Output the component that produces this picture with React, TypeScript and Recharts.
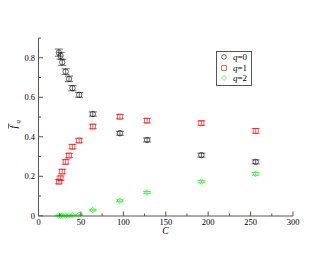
import { ScatterChart, Scatter, XAxis, YAxis, ErrorBar } from "recharts";

const sizes = [24, 26, 28, 32, 36, 40, 48, 64, 96, 128, 192, 256];
const q0 = [0.826, 0.81, 0.777, 0.73, 0.693, 0.646, 0.612, 0.515, 0.418, 0.384, 0.307, 0.273];
const q0Err = [0.018, 0.017, 0.015, 0.014, 0.014, 0.013, 0.012, 0.011, 0.01, 0.01, 0.01, 0.01];
const q1 = [0.173, 0.19, 0.224, 0.273, 0.305, 0.35, 0.381, 0.452, 0.502, 0.482, 0.469, 0.43];
const q1Err = [0.011, 0.011, 0.011, 0.011, 0.011, 0.011, 0.011, 0.011, 0.011, 0.011, 0.011, 0.012];
const q2 = [0.001, 0.001, 0.001, 0.001, 0.002, 0.002, 0.005, 0.029, 0.076, 0.118, 0.173, 0.212];
const q2Err = [0.002, 0.002, 0.002, 0.002, 0.002, 0.002, 0.003, 0.004, 0.005, 0.005, 0.006, 0.007];

const xTicks = [0, 25, 50, 75, 100, 125, 150, 175, 200, 225, 250, 275, 300];
const yTicks = [0, 0.1, 0.2, 0.3, 0.4, 0.5, 0.6, 0.7, 0.8, 0.9];
const legendLabels = ["0", "1", "2"];

const FONT = '"Liberation Serif", "Times New Roman", serif';
const AXIS = "#555";

const build = (vals: number[], errs: number[]) =>
  sizes.map((c, i) => ({ c, v: vals[i], err: errs[i] }));

const isMajorX = (v: number) => v % 50 === 0;
const isMajorY = (v: number) => Math.abs(Math.round(v * 10) % 2) === 0;

const BottomTick = (p: any) => {
  const v = p.payload.value;
  const major = isMajorX(v);
  return (
    <g>
      <line x1={p.x} x2={p.x} y1={p.y} y2={p.y - (major ? 4.5 : 2.5)} stroke={AXIS} />
      {major && (
        <text x={p.x} y={p.y + 8.5} textAnchor="middle" fontSize={8.5} fontFamily={FONT} fill="#000" stroke="none">
          {v}
        </text>
      )}
    </g>
  );
};

const TopTick = (p: any) => {
  const major = isMajorX(p.payload.value);
  return <line x1={p.x} x2={p.x} y1={p.y} y2={p.y + (major ? 4.5 : 2.5)} stroke={AXIS} />;
};

const LeftTick = (p: any) => {
  const v = p.payload.value;
  const major = isMajorY(v);
  return (
    <g>
      <line x1={p.x} x2={p.x + (major ? 4.5 : 2.5)} y1={p.y} y2={p.y} stroke={AXIS} />
      {major && v < 0.85 && (
        <text x={p.x - 3.5} y={p.y + 3} textAnchor="end" fontSize={8.5} fontFamily={FONT} fill="#000" stroke="none">
          {v === 0 ? "0" : v.toFixed(1)}
        </text>
      )}
    </g>
  );
};

const RightTick = (p: any) => {
  const major = isMajorY(p.payload.value);
  return <line x1={p.x} x2={p.x - (major ? 4.5 : 2.5)} y1={p.y} y2={p.y} stroke={AXIS} />;
};

const Circle = (p: any) => (
  <circle cx={p.cx} cy={p.cy} r={2.7} fill="none" stroke="#000" strokeWidth={0.6} />
);
const Square = (p: any) => (
  <rect x={p.cx - 2.5} y={p.cy - 2.5} width={5} height={5} fill="none" stroke="#ff0000" strokeWidth={0.6} />
);
const Diamond = (p: any) => (
  <path
    d={`M${p.cx},${p.cy - 2.8}L${p.cx + 2.8},${p.cy}L${p.cx},${p.cy + 2.8}L${p.cx - 2.8},${p.cy}Z`}
    fill="none"
    stroke="#00ee00"
    strokeWidth={0.6}
  />
);

const LegendBox = () => {
  const syms = [
    <circle cx={5} cy={5} r={2.3} fill="none" stroke="#000" strokeWidth={0.6} />,
    <rect x={2.7} y={2.7} width={4.6} height={4.6} fill="none" stroke="#ff0000" strokeWidth={0.6} />,
    <path d="M5,2.5L7.5,5L5,7.5L2.5,5Z" fill="none" stroke="#00ee00" strokeWidth={0.6} />,
  ];
  return (
    <div
      style={{
        position: "absolute",
        left: 216,
        top: 51,
        width: 32,
        border: "1px solid #555",
        padding: "0 0 1px 2px",
        background: "#fff",
        fontFamily: FONT,
        fontSize: 9,
        lineHeight: "10.5px",
      }}
    >
      {legendLabels.map((q, i) => (
        <div key={q} style={{ display: "flex", alignItems: "center" }}>
          <svg width={10} height={10} style={{ marginRight: 4 }}>
            {syms[i]}
          </svg>
          <span>
            <i>q</i>={q}
          </span>
        </div>
      ))}
    </div>
  );
};

const YLabel = () => (
  <g transform="translate(17,125) rotate(-90)">
    <line x1={-3.5} x2={1.5} y1={-8.5} y2={-8.5} stroke="#000" strokeWidth={0.6} />
    <text x={-2} y={0} textAnchor="middle" fontSize={10} fontStyle="italic" fontFamily={FONT} fill="#000" stroke="none">
      f
    </text>
    <text x={1.5} y={2.5} fontSize={7} fontStyle="italic" fontFamily={FONT} fill="#000" stroke="none">
      q
    </text>
  </g>
);

const XLabel = () => (
  <text x={165.5} y={233.5} textAnchor="middle" fontSize={9.5} fontStyle="italic" fontFamily={FONT} fill="#000" stroke="none">
    C
  </text>
);

export default function App() {
  return (
    <div style={{ position: "absolute", left: 0, top: 0, width: 330, height: 255, background: "#fff" }}>
      <ScatterChart width={330} height={255} margin={{ top: 38, right: 37, bottom: 0, left: 0 }}>
        <XAxis
          xAxisId="b"
          dataKey="c"
          type="number"
          domain={[0, 300]}
          ticks={xTicks}
          height={39}
          tickSize={0}
          tickMargin={0}
          tick={<BottomTick />}
          stroke={AXIS}
          interval={0}
          label={<XLabel />}
        />
        <XAxis
          xAxisId="t"
          dataKey="c"
          orientation="top"
          type="number"
          domain={[0, 300]}
          ticks={xTicks}
          height={0}
          tickSize={0}
          tickMargin={0}
          tick={<TopTick />}
          stroke={AXIS}
          interval={0}
        />
        <YAxis
          yAxisId="l"
          dataKey="v"
          type="number"
          domain={[0, 0.9]}
          ticks={yTicks}
          width={38.5}
          tickSize={0}
          tickMargin={0}
          tick={<LeftTick />}
          stroke={AXIS}
          interval={0}
          label={<YLabel />}
        />
        <YAxis
          yAxisId="r"
          dataKey="v"
          orientation="right"
          type="number"
          domain={[0, 0.9]}
          ticks={yTicks}
          width={0}
          tickSize={0}
          tickMargin={0}
          tick={<RightTick />}
          stroke={AXIS}
          interval={0}
        />
        <Scatter data={[]} xAxisId="t" yAxisId="r" isAnimationActive={false} legendType="none" />
        <Scatter name="q=0" data={build(q0, q0Err)} xAxisId="b" yAxisId="l" shape={<Circle />} isAnimationActive={false}>
          <ErrorBar dataKey="err" direction="y" width={4} stroke="#000" strokeWidth={0.6} />
        </Scatter>
        <Scatter name="q=1" data={build(q1, q1Err)} xAxisId="b" yAxisId="l" shape={<Square />} isAnimationActive={false}>
          <ErrorBar dataKey="err" direction="y" width={4} stroke="#ff0000" strokeWidth={0.6} />
        </Scatter>
        <Scatter name="q=2" data={build(q2, q2Err)} xAxisId="b" yAxisId="l" shape={<Diamond />} isAnimationActive={false}>
          <ErrorBar dataKey="err" direction="y" width={4} stroke="#00ee00" strokeWidth={0.6} />
        </Scatter>
      </ScatterChart>
      <LegendBox />
    </div>
  );
}
